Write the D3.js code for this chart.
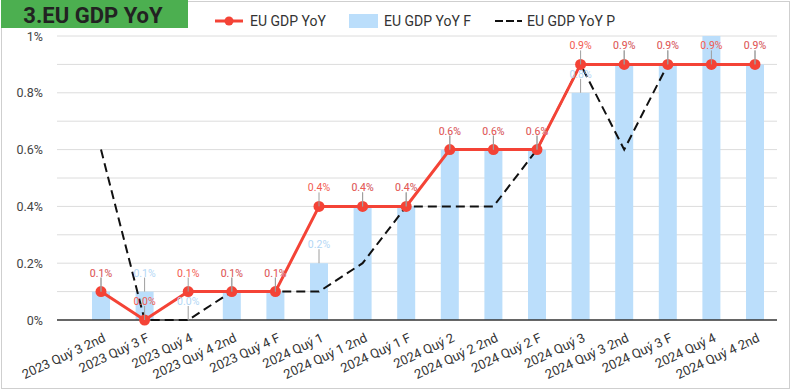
<!DOCTYPE html>
<html>
<head>
<meta charset="utf-8">
<script src="https://cdn.jsdelivr.net/npm/d3@7"></script>
<style>
  body { margin: 0; background: #fff; }
  svg { font-family: Roboto, "Noto Sans", sans-serif; display: block; }
</style>
</head>
<body>
<div id="chart"></div>
<script>
// chart data
const categories = [
  "2023 Quý 3 2nd", "2023 Quý 3 F", "2023 Quý 4", "2023 Quý 4 2nd", "2023 Quý 4 F",
  "2024 Quý 1", "2024 Quý 1 2nd", "2024 Quý 1 F", "2024 Quý 2", "2024 Quý 2 2nd",
  "2024 Quý 2 F", "2024 Quý 3", "2024 Quý 3 2nd", "2024 Quý 3 F", "2024 Quý 4", "2024 Quý 4 2nd"
];
const gdpYoY  = [0.1, 0.0, 0.1, 0.1, 0.1, 0.4, 0.4, 0.4, 0.6, 0.6, 0.6, 0.9, 0.9, 0.9, 0.9, 0.9];
const gdpYoYF = [0.1, 0.1, 0.0, 0.1, 0.1, 0.2, 0.4, 0.4, 0.6, 0.6, 0.6, 0.8, 0.9, 0.9, 1.0, 0.9];
const gdpYoYP = [0.6, 0.0, 0.0, 0.1, 0.1, 0.1, 0.2, 0.4, 0.4, 0.4, 0.6, 0.9, 0.6, 0.9, 0.9, 0.9];
const yTicks = [0, 0.2, 0.4, 0.6, 0.8, 1];
const yGrid = d3.range(0, 11).map(i => i / 10);

const W = 793, H = 391;
const MARGIN = { TOP: 36, BOTTOM: 71, LEFT: 57, RIGHT: 16 };
const WIDTH = W - MARGIN.LEFT - MARGIN.RIGHT;
const HEIGHT = H - MARGIN.TOP - MARGIN.BOTTOM;

const RED = "#f44336";
const RED_LABEL = "#f25a50";
const BLUE = "#bbdefb";

const svg = d3.select("#chart").append("svg")
  .attr("width", W)
  .attr("height", H);

// card border
svg.append("rect")
  .attr("x", 1.5).attr("y", 1.5)
  .attr("width", 788).attr("height", 387)
  .attr("fill", "none")
  .attr("stroke", "#cfcfcf");

// title box
svg.append("rect")
  .attr("x", 1).attr("y", 0)
  .attr("width", 187).attr("height", 28)
  .attr("fill", "#4caf50");
svg.append("text")
  .attr("x", 93).attr("y", 22.5)
  .attr("text-anchor", "middle")
  .attr("font-size", 22)
  .attr("font-weight", "bold")
  .attr("fill", "#222")
  .text("3.EU GDP YoY");

const g = svg.append("g")
  .attr("transform", `translate(${MARGIN.LEFT}, ${MARGIN.TOP})`);

const x = d3.scalePoint()
  .domain(categories)
  .range([44, WIDTH - 22]);

const y = d3.scaleLinear()
  .domain([0, 1])
  .range([HEIGHT, 0]);

// clip for labels that would go above the plot
svg.append("defs").append("clipPath")
  .attr("id", "plotclip")
  .append("rect")
  .attr("x", -MARGIN.LEFT).attr("y", 0)
  .attr("width", W).attr("height", HEIGHT + 10);

// gridlines
g.append("g")
  .selectAll("line")
  .data(yGrid.filter(d => d > 0))
  .join("line")
    .attr("x1", 0).attr("x2", WIDTH)
    .attr("y1", d => y(d)).attr("y2", d => y(d))
    .attr("stroke", "#dcdcdc")
    .attr("stroke-width", 1);

// y axis labels
const yAxis = g.append("g")
  .call(d3.axisLeft(y).tickValues(yTicks).tickSize(0).tickPadding(14)
    .tickFormat(d => d3.format(".1~f")(d) + "%"));
yAxis.select(".domain").remove();
yAxis.selectAll("text")
  .attr("font-size", 12.5)
  .attr("fill", "#444")
  .attr("font-family", "Roboto, sans-serif");

// bars
const barW = 18;
g.append("g")
  .selectAll("rect")
  .data(gdpYoYF)
  .join("rect")
    .attr("x", (d, i) => x(categories[i]) - barW / 2)
    .attr("y", d => y(d))
    .attr("width", barW)
    .attr("height", d => HEIGHT - y(d))
    .attr("fill", BLUE);

// x axis
const xAxis = g.append("g")
  .attr("transform", `translate(0, ${HEIGHT})`)
  .call(d3.axisBottom(x).tickSize(0).tickPadding(0));
xAxis.select(".domain")
  .attr("d", `M0,0H${WIDTH}`)
  .attr("stroke", "#333")
  .attr("stroke-width", 1.5);
xAxis.selectAll("text")
  .attr("font-size", 13)
  .attr("fill", "#333")
  .attr("font-family", "Roboto, sans-serif")
  .attr("text-anchor", "end")
  .attr("dy", 0)
  .attr("y", 0)
  .attr("transform", "translate(5, 21) rotate(-25)");

// dashed P line
const line = d3.line()
  .x((d, i) => x(categories[i]))
  .y(d => y(d));

g.append("path")
  .datum(gdpYoYP)
  .attr("d", line)
  .attr("fill", "none")
  .attr("stroke", "#111")
  .attr("stroke-width", 2)
  .attr("stroke-dasharray", "9,5");

// red line
g.append("path")
  .datum(gdpYoY)
  .attr("d", line)
  .attr("fill", "none")
  .attr("stroke", RED)
  .attr("stroke-width", 3);

g.append("g")
  .selectAll("circle")
  .data(gdpYoY)
  .join("circle")
    .attr("cx", (d, i) => x(categories[i]))
    .attr("cy", d => y(d))
    .attr("r", 5.5)
    .attr("fill", RED);

// data labels with leader lines
const labels = g.append("g").attr("clip-path", "url(#plotclip)");
function addLabels(values, color) {
  const lg = labels.append("g");
  lg.selectAll("line")
    .data(values)
    .join("line")
      .attr("x1", (d, i) => x(categories[i]))
      .attr("x2", (d, i) => x(categories[i]))
      .attr("y1", d => y(d))
      .attr("y2", d => y(d) - 14)
      .attr("stroke", "#9e9e9e")
      .attr("stroke-width", 1);
  lg.selectAll("text")
    .data(values)
    .join("text")
      .attr("x", (d, i) => x(categories[i]))
      .attr("y", d => y(d) - 15)
      .attr("text-anchor", "middle")
      .attr("font-size", 10.5)
      .attr("fill", color)
      .text(d => d3.format(".1f")(d) + "%");
}
addLabels(gdpYoYF, "#b3d7f5");
addLabels(gdpYoY, RED_LABEL);

// legend
const legend = svg.append("g").attr("font-size", 14).attr("fill", "#333");
legend.append("line")
  .attr("x1", 215).attr("x2", 243).attr("y1", 21).attr("y2", 21)
  .attr("stroke", RED).attr("stroke-width", 3);
legend.append("circle")
  .attr("cx", 229).attr("cy", 21).attr("r", 4.5).attr("fill", RED);
legend.append("text").attr("x", 250).attr("y", 26).text("EU GDP YoY");

legend.append("rect")
  .attr("x", 349).attr("y", 14).attr("width", 29).attr("height", 14)
  .attr("fill", BLUE);
legend.append("text").attr("x", 384).attr("y", 26).text("EU GDP YoY F");

legend.append("line")
  .attr("x1", 495).attr("x2", 522).attr("y1", 21).attr("y2", 21)
  .attr("stroke", "#111").attr("stroke-width", 2)
  .attr("stroke-dasharray", "8,3");
legend.append("text").attr("x", 527).attr("y", 26).text("EU GDP YoY P");
</script>
</body>
</html>
